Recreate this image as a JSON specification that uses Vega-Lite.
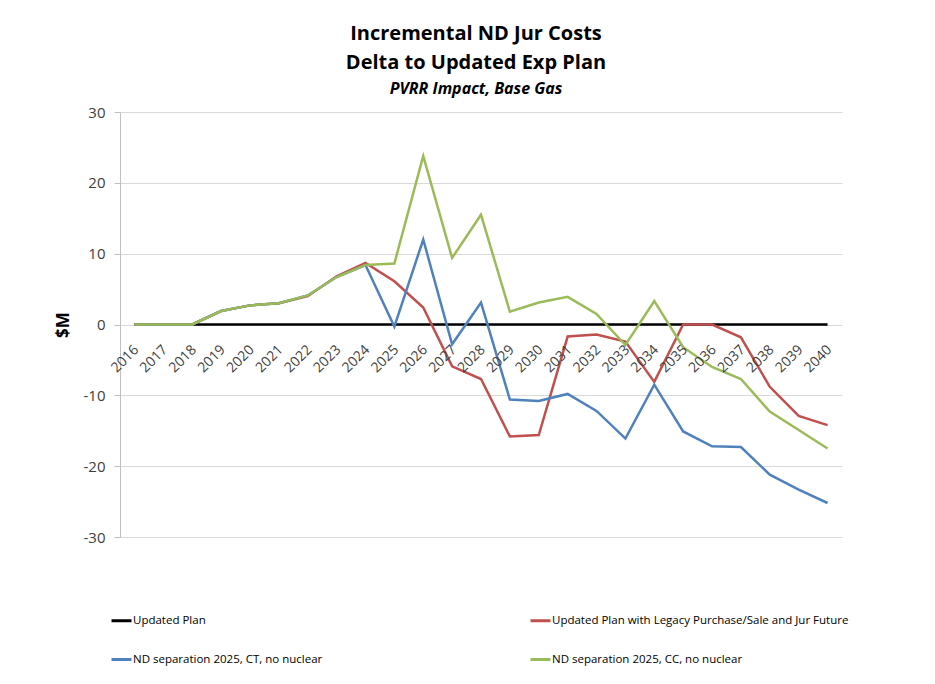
{
  "$schema": "https://vega.github.io/schema/vega-lite/v6.json",
  "autosize": {"type": "none"},
  "padding": {"left": 120, "top": 112, "right": 93, "bottom": 147},
  "width": 722,
  "height": 425,
  "background": "white",
  "title": {
    "text": ["Incremental ND Jur Costs", "Delta to Updated Exp Plan"],
    "subtitle": "PVRR Impact, Base Gas",
    "anchor": "middle",
    "frame": "group",
    "dx": -5,
    "font": "Open Sans, sans-serif",
    "fontSize": 20,
    "fontWeight": "bold",
    "color": "#000000",
    "lineHeight": 29,
    "subtitleFont": "Open Sans, sans-serif",
    "subtitleFontSize": 16,
    "subtitleFontStyle": "italic",
    "subtitleFontWeight": "bold",
    "subtitleColor": "#000000",
    "subtitlePadding": 8,
    "offset": 8
  },
  "config": {
    "view": {"stroke": null},
    "font": "Open Sans, sans-serif"
  },
  "data": {
    "values": [
      {"year": "2016", "series": "Updated Plan", "value": 0},
      {"year": "2017", "series": "Updated Plan", "value": 0},
      {"year": "2018", "series": "Updated Plan", "value": 0},
      {"year": "2019", "series": "Updated Plan", "value": 0},
      {"year": "2020", "series": "Updated Plan", "value": 0},
      {"year": "2021", "series": "Updated Plan", "value": 0},
      {"year": "2022", "series": "Updated Plan", "value": 0},
      {"year": "2023", "series": "Updated Plan", "value": 0},
      {"year": "2024", "series": "Updated Plan", "value": 0},
      {"year": "2025", "series": "Updated Plan", "value": 0},
      {"year": "2026", "series": "Updated Plan", "value": 0},
      {"year": "2027", "series": "Updated Plan", "value": 0},
      {"year": "2028", "series": "Updated Plan", "value": 0},
      {"year": "2029", "series": "Updated Plan", "value": 0},
      {"year": "2030", "series": "Updated Plan", "value": 0},
      {"year": "2031", "series": "Updated Plan", "value": 0},
      {"year": "2032", "series": "Updated Plan", "value": 0},
      {"year": "2033", "series": "Updated Plan", "value": 0},
      {"year": "2034", "series": "Updated Plan", "value": 0},
      {"year": "2035", "series": "Updated Plan", "value": 0},
      {"year": "2036", "series": "Updated Plan", "value": 0},
      {"year": "2037", "series": "Updated Plan", "value": 0},
      {"year": "2038", "series": "Updated Plan", "value": 0},
      {"year": "2039", "series": "Updated Plan", "value": 0},
      {"year": "2040", "series": "Updated Plan", "value": 0},

      {"year": "2016", "series": "Updated Plan with Legacy Purchase/Sale and Jur Future", "value": 0},
      {"year": "2017", "series": "Updated Plan with Legacy Purchase/Sale and Jur Future", "value": 0},
      {"year": "2018", "series": "Updated Plan with Legacy Purchase/Sale and Jur Future", "value": 0},
      {"year": "2019", "series": "Updated Plan with Legacy Purchase/Sale and Jur Future", "value": 1.9},
      {"year": "2020", "series": "Updated Plan with Legacy Purchase/Sale and Jur Future", "value": 2.7},
      {"year": "2021", "series": "Updated Plan with Legacy Purchase/Sale and Jur Future", "value": 3.0},
      {"year": "2022", "series": "Updated Plan with Legacy Purchase/Sale and Jur Future", "value": 4.0},
      {"year": "2023", "series": "Updated Plan with Legacy Purchase/Sale and Jur Future", "value": 6.8},
      {"year": "2024", "series": "Updated Plan with Legacy Purchase/Sale and Jur Future", "value": 8.7},
      {"year": "2025", "series": "Updated Plan with Legacy Purchase/Sale and Jur Future", "value": 6.1},
      {"year": "2026", "series": "Updated Plan with Legacy Purchase/Sale and Jur Future", "value": 2.4},
      {"year": "2027", "series": "Updated Plan with Legacy Purchase/Sale and Jur Future", "value": -5.9},
      {"year": "2028", "series": "Updated Plan with Legacy Purchase/Sale and Jur Future", "value": -7.7},
      {"year": "2029", "series": "Updated Plan with Legacy Purchase/Sale and Jur Future", "value": -15.8},
      {"year": "2030", "series": "Updated Plan with Legacy Purchase/Sale and Jur Future", "value": -15.6},
      {"year": "2031", "series": "Updated Plan with Legacy Purchase/Sale and Jur Future", "value": -1.7},
      {"year": "2032", "series": "Updated Plan with Legacy Purchase/Sale and Jur Future", "value": -1.4},
      {"year": "2033", "series": "Updated Plan with Legacy Purchase/Sale and Jur Future", "value": -2.4},
      {"year": "2034", "series": "Updated Plan with Legacy Purchase/Sale and Jur Future", "value": -8.1},
      {"year": "2035", "series": "Updated Plan with Legacy Purchase/Sale and Jur Future", "value": 0},
      {"year": "2036", "series": "Updated Plan with Legacy Purchase/Sale and Jur Future", "value": 0},
      {"year": "2037", "series": "Updated Plan with Legacy Purchase/Sale and Jur Future", "value": -1.8},
      {"year": "2038", "series": "Updated Plan with Legacy Purchase/Sale and Jur Future", "value": -8.8},
      {"year": "2039", "series": "Updated Plan with Legacy Purchase/Sale and Jur Future", "value": -12.9},
      {"year": "2040", "series": "Updated Plan with Legacy Purchase/Sale and Jur Future", "value": -14.2},

      {"year": "2016", "series": "ND separation 2025, CT, no nuclear", "value": 0},
      {"year": "2017", "series": "ND separation 2025, CT, no nuclear", "value": 0},
      {"year": "2018", "series": "ND separation 2025, CT, no nuclear", "value": 0},
      {"year": "2019", "series": "ND separation 2025, CT, no nuclear", "value": 1.9},
      {"year": "2020", "series": "ND separation 2025, CT, no nuclear", "value": 2.7},
      {"year": "2021", "series": "ND separation 2025, CT, no nuclear", "value": 3.0},
      {"year": "2022", "series": "ND separation 2025, CT, no nuclear", "value": 4.1},
      {"year": "2023", "series": "ND separation 2025, CT, no nuclear", "value": 6.7},
      {"year": "2024", "series": "ND separation 2025, CT, no nuclear", "value": 8.4},
      {"year": "2025", "series": "ND separation 2025, CT, no nuclear", "value": -0.3},
      {"year": "2026", "series": "ND separation 2025, CT, no nuclear", "value": 12.0},
      {"year": "2027", "series": "ND separation 2025, CT, no nuclear", "value": -2.8},
      {"year": "2028", "series": "ND separation 2025, CT, no nuclear", "value": 3.1},
      {"year": "2029", "series": "ND separation 2025, CT, no nuclear", "value": -10.6},
      {"year": "2030", "series": "ND separation 2025, CT, no nuclear", "value": -10.8},
      {"year": "2031", "series": "ND separation 2025, CT, no nuclear", "value": -9.8},
      {"year": "2032", "series": "ND separation 2025, CT, no nuclear", "value": -12.2},
      {"year": "2033", "series": "ND separation 2025, CT, no nuclear", "value": -16.1},
      {"year": "2034", "series": "ND separation 2025, CT, no nuclear", "value": -8.5},
      {"year": "2035", "series": "ND separation 2025, CT, no nuclear", "value": -15.1},
      {"year": "2036", "series": "ND separation 2025, CT, no nuclear", "value": -17.2},
      {"year": "2037", "series": "ND separation 2025, CT, no nuclear", "value": -17.3},
      {"year": "2038", "series": "ND separation 2025, CT, no nuclear", "value": -21.2},
      {"year": "2039", "series": "ND separation 2025, CT, no nuclear", "value": -23.3},
      {"year": "2040", "series": "ND separation 2025, CT, no nuclear", "value": -25.2},

      {"year": "2016", "series": "ND separation 2025, CC, no nuclear", "value": 0},
      {"year": "2017", "series": "ND separation 2025, CC, no nuclear", "value": 0},
      {"year": "2018", "series": "ND separation 2025, CC, no nuclear", "value": 0},
      {"year": "2019", "series": "ND separation 2025, CC, no nuclear", "value": 1.9},
      {"year": "2020", "series": "ND separation 2025, CC, no nuclear", "value": 2.7},
      {"year": "2021", "series": "ND separation 2025, CC, no nuclear", "value": 3.0},
      {"year": "2022", "series": "ND separation 2025, CC, no nuclear", "value": 4.1},
      {"year": "2023", "series": "ND separation 2025, CC, no nuclear", "value": 6.7},
      {"year": "2024", "series": "ND separation 2025, CC, no nuclear", "value": 8.4},
      {"year": "2025", "series": "ND separation 2025, CC, no nuclear", "value": 8.6},
      {"year": "2026", "series": "ND separation 2025, CC, no nuclear", "value": 23.8},
      {"year": "2027", "series": "ND separation 2025, CC, no nuclear", "value": 9.4},
      {"year": "2028", "series": "ND separation 2025, CC, no nuclear", "value": 15.5},
      {"year": "2029", "series": "ND separation 2025, CC, no nuclear", "value": 1.8},
      {"year": "2030", "series": "ND separation 2025, CC, no nuclear", "value": 3.1},
      {"year": "2031", "series": "ND separation 2025, CC, no nuclear", "value": 3.9},
      {"year": "2032", "series": "ND separation 2025, CC, no nuclear", "value": 1.5},
      {"year": "2033", "series": "ND separation 2025, CC, no nuclear", "value": -2.9},
      {"year": "2034", "series": "ND separation 2025, CC, no nuclear", "value": 3.3},
      {"year": "2035", "series": "ND separation 2025, CC, no nuclear", "value": -3.2},
      {"year": "2036", "series": "ND separation 2025, CC, no nuclear", "value": -6.0},
      {"year": "2037", "series": "ND separation 2025, CC, no nuclear", "value": -7.7},
      {"year": "2038", "series": "ND separation 2025, CC, no nuclear", "value": -12.3},
      {"year": "2039", "series": "ND separation 2025, CC, no nuclear", "value": -14.9},
      {"year": "2040", "series": "ND separation 2025, CC, no nuclear", "value": -17.5}
    ]
  },
  "layer": [
    {
      "mark": {"type": "line", "strokeWidth": 2.5},
      "encoding": {
        "x": {
          "field": "year", "type": "ordinal",
          "scale": {"type": "point", "padding": 0.5},
          "axis": null
        },
        "y": {
          "field": "value", "type": "quantitative",
          "scale": {"domain": [-30, 30], "nice": false, "zero": false},
          "axis": {
            "title": "$M",
            "values": [-30, -20, -10, 0, 10, 20, 30],
            "labelExpr": "'' + datum.value",
            "grid": true,
            "gridColor": "#d9d9d9",
            "gridWidth": 1,
            "domainColor": "#bfbfbf",
            "tickColor": "#bfbfbf",
            "tickSize": 6,
            "labelPadding": 9,
            "labelFontSize": 15,
            "labelColor": "#404040",
            "labelFont": "Open Sans, sans-serif",
            "titleFontSize": 17,
            "titleFontWeight": "bold",
            "titleColor": "#000000",
            "titleFont": "Open Sans, sans-serif",
            "titlePadding": 11
          }
        },
        "color": {
          "field": "series", "type": "nominal", "sort": null,
          "scale": {
            "domain": ["Updated Plan", "Updated Plan with Legacy Purchase/Sale and Jur Future", "ND separation 2025, CT, no nuclear", "ND separation 2025, CC, no nuclear"],
            "range": ["#000000", "#C0504D", "#4F81BD", "#9BBB59"]
          },
          "legend": {
            "title": null,
            "orient": "none",
            "legendX": -10,
            "legendY": 497,
            "direction": "horizontal",
            "columns": 2,
            "columnPadding": 201,
            "rowPadding": 21,
            "symbolType": "stroke",
            "symbolSize": 400,
            "symbolStrokeWidth": 3,
            "labelFontSize": 11.5,
            "labelFont": "Open Sans, sans-serif",
            "labelColor": "#000000",
            "labelOffset": 0,
            "labelLimit": 400
          }
        }
      }
    },
    {
      "transform": [{"filter": "datum.series === 'Updated Plan'"}],
      "mark": {
        "type": "text", "angle": -45, "align": "right", "baseline": "middle",
        "dx": -15, "dy": 18, "fontSize": 14, "color": "#404040",
        "font": "Open Sans, sans-serif"
      },
      "encoding": {
        "x": {"field": "year", "type": "ordinal"},
        "y": {"datum": 0},
        "text": {"field": "year"}
      }
    }
  ]
}
